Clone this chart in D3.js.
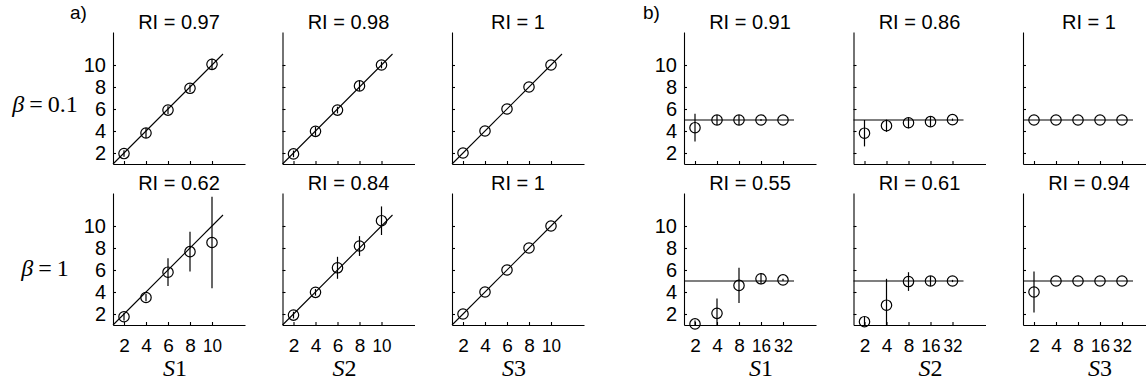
<!DOCTYPE html>
<html>
<head>
<meta charset="utf-8">
<script src="https://cdn.jsdelivr.net/npm/d3@7"></script>
<style>
  body { margin: 0; background: #fff; }
  svg { display: block; }
  text { fill: #000; }
</style>
</head>
<body>
<div id="chart"></div>
<script>
(function() {
    let w = 1146;
    let h = 383;

    // values
    let rowLabels = ["0.1", "1"];
    let colLabels = ["1", "2", "3"];
    let riA = [[0.97, 0.98, 1], [0.62, 0.84, 1]];
    let riB = [[0.91, 0.86, 1], [0.55, 0.61, 0.94]];

    let xA = [2, 4, 6, 8, 10];
    let xB = [2, 4, 8, 16, 32];
    let yTicks = [2, 4, 6, 8, 10];

    // panel a, beta = 0.1
    let meanA01 = [
        [1.95, 3.82, 5.9, 7.88, 10.06],
        [1.92, 3.97, 5.9, 8.1, 10.0],
        [2, 4, 6, 8, 10]
    ];
    let errA01 = [
        [0.3, 0.45, 0.35, 0.35, 0.5],
        [0.3, 0.4, 0.3, 0.45, 0.3],
        [0, 0, 0, 0, 0]
    ];
    // panel a, beta = 1
    let meanA1 = [
        [1.75, 3.5, 5.8, 7.67, 8.5],
        [1.9, 3.97, 6.2, 8.18, 10.48],
        [2, 4, 6, 8, 10]
    ];
    let errA1 = [
        [0.35, 0.35, 1.26, 1.8, 4.15],
        [0.3, 0.3, 1.0, 0.9, 1.3],
        [0, 0, 0, 0, 0]
    ];
    // panel b, beta = 0.1
    let meanB01 = [
        [4.3, 5.0, 5.0, 5.0, 5.0],
        [3.8, 4.48, 4.75, 4.85, 5.03],
        [5, 5, 5, 5, 5]
    ];
    let errB01 = [
        [1.26, 0.45, 0.45, 0.1, 0],
        [1.2, 0.56, 0.5, 0.45, 0.1],
        [0, 0, 0, 0, 0]
    ];
    // panel b, beta = 1
    let meanB1 = [
        [1.1, 2.06, 4.6, 5.2, 5.1],
        [1.3, 2.8, 4.95, 5.0, 5.0],
        [4.0, 5, 5, 5, 5]
    ];
    let errB1 = [
        [0.3, 1.36, 1.6, 0.5, 0.1],
        [0.45, 2.4, 0.85, 0.45, 0.1],
        [1.86, 0, 0, 0, 0]
    ];

    let refA = [[1, 1], [11, 11]];
    let refB = [[Math.SQRT2, 5], [Math.pow(2, 5.5), 5]];

    let size = 132;
    let rowTop = [32, 193];
    let colStep = 169.5;
    let sans = "'Liberation Sans', Arial, Helvetica, sans-serif";
    let serif = "'Liberation Serif', 'Times New Roman', serif";

    let svg = d3.select("#chart")
        .append("svg")
        .attr("width", w)
        .attr("height", h);

    let y = d3.scaleLinear().domain([1, 13]).range([size, 0]);

    let groups = [
        {
            name: "a)", left: 113, labelX: 70,
            x: d3.scaleLinear().domain([1, 13]).range([0, size]),
            xs: xA, ri: riA, means: [meanA01, meanA1], errs: [errA01, errA1],
            ref: refA, xlabOff: 62
        },
        {
            name: "b)", left: 684, labelX: 643,
            x: d3.scaleLog().base(2).domain([Math.SQRT2, Math.pow(2, 6.5)]).range([0, size]),
            xs: xB, ri: riB, means: [meanB01, meanB1], errs: [errB01, errB1],
            ref: refB, xlabOff: 77
        }
    ];

    let line = d3.line();

    groups.forEach((grp) => {
        svg.append("text")
            .attr("x", grp.labelX)
            .attr("y", 19)
            .attr("font-family", sans)
            .attr("font-size", 19)
            .text(grp.name);

        rowLabels.forEach((rl, r) => {
            colLabels.forEach((cl, c) => {
                let x = grp.x;
                let g = svg.append("g")
                    .attr("transform", "translate(" + (grp.left + c * colStep) + "," + rowTop[r] + ")");

                let yAxis = d3.axisLeft(y)
                    .tickValues(yTicks)
                    .tickSizeInner(-3)
                    .tickSizeOuter(0)
                    .tickPadding(7)
                    .tickFormat(c === 0 ? d3.format("d") : () => "");
                let xAxis = d3.axisBottom(x)
                    .tickValues(grp.xs)
                    .tickSizeInner(-3)
                    .tickSizeOuter(0)
                    .tickPadding(14)
                    .tickFormat(r === 1 ? d3.format("d") : () => "");

                g.append("g")
                    .attr("transform", "translate(0," + size + ")")
                    .call(xAxis)
                    .attr("font-size", 19)
                    .attr("font-family", sans)
                    .selectAll("text")
                    .attr("textLength", (d) => d >= 10 ? 19 : null)
                    .attr("lengthAdjust", "spacingAndGlyphs");
                g.append("g")
                    .call(yAxis)
                    .attr("font-size", 20)
                    .attr("font-family", sans);
                g.selectAll(".domain, .tick line").attr("stroke", "#000").attr("stroke-width", 1.1);

                // reference line
                g.append("path")
                    .attr("d", line(grp.ref.map((d) => [x(d[0]), y(d[1])])))
                    .attr("fill", "none")
                    .attr("stroke", "#000")
                    .attr("stroke-width", 1.1);

                let pts = grp.xs.map((v, i) => ({
                    x: v,
                    m: grp.means[r][c][i],
                    e: grp.errs[r][c][i]
                }));

                g.selectAll("line.err")
                    .data(pts.filter((d) => d.e > 0))
                    .enter()
                    .append("line")
                    .attr("class", "err")
                    .attr("x1", (d) => x(d.x))
                    .attr("x2", (d) => x(d.x))
                    .attr("y1", (d) => y(Math.min(13, d.m + d.e)))
                    .attr("y2", (d) => y(Math.max(1, d.m - d.e)))
                    .attr("stroke", "#000")
                    .attr("stroke-width", 1.2);

                g.selectAll("circle")
                    .data(pts)
                    .enter()
                    .append("circle")
                    .attr("r", 5.2)
                    .attr("cx", (d) => x(d.x))
                    .attr("cy", (d) => y(d.m))
                    .attr("fill", "none")
                    .attr("stroke", "#000")
                    .attr("stroke-width", 1.2);

                g.append("text")
                    .attr("x", size / 2)
                    .attr("y", -3)
                    .attr("text-anchor", "middle")
                    .attr("font-family", sans)
                    .attr("font-size", 20)
                    .text("RI = " + grp.ri[r][c]);

                if (r === 1) {
                    let t = g.append("text")
                        .attr("x", grp.xlabOff)
                        .attr("y", size + 51)
                        .attr("text-anchor", "middle")
                        .attr("font-family", serif)
                        .attr("font-size", 24);
                    t.append("tspan").attr("font-style", "italic").text("S");
                    t.append("tspan").text(cl);
                }
            });
        });
    });

    // beta row labels
    rowLabels.forEach((rl, r) => {
        let t = svg.append("text")
            .attr("x", 45)
            .attr("y", rowTop[r] + (r === 0 ? 80 : 83))
            .attr("text-anchor", "middle")
            .attr("font-family", serif)
            .attr("font-size", 24);
        t.append("tspan").attr("font-style", "italic").text("β");
        t.append("tspan").attr("dx", 5).text("=");
        t.append("tspan").attr("dx", 5).text(rl);
    });
})();
</script>
</body>
</html>
